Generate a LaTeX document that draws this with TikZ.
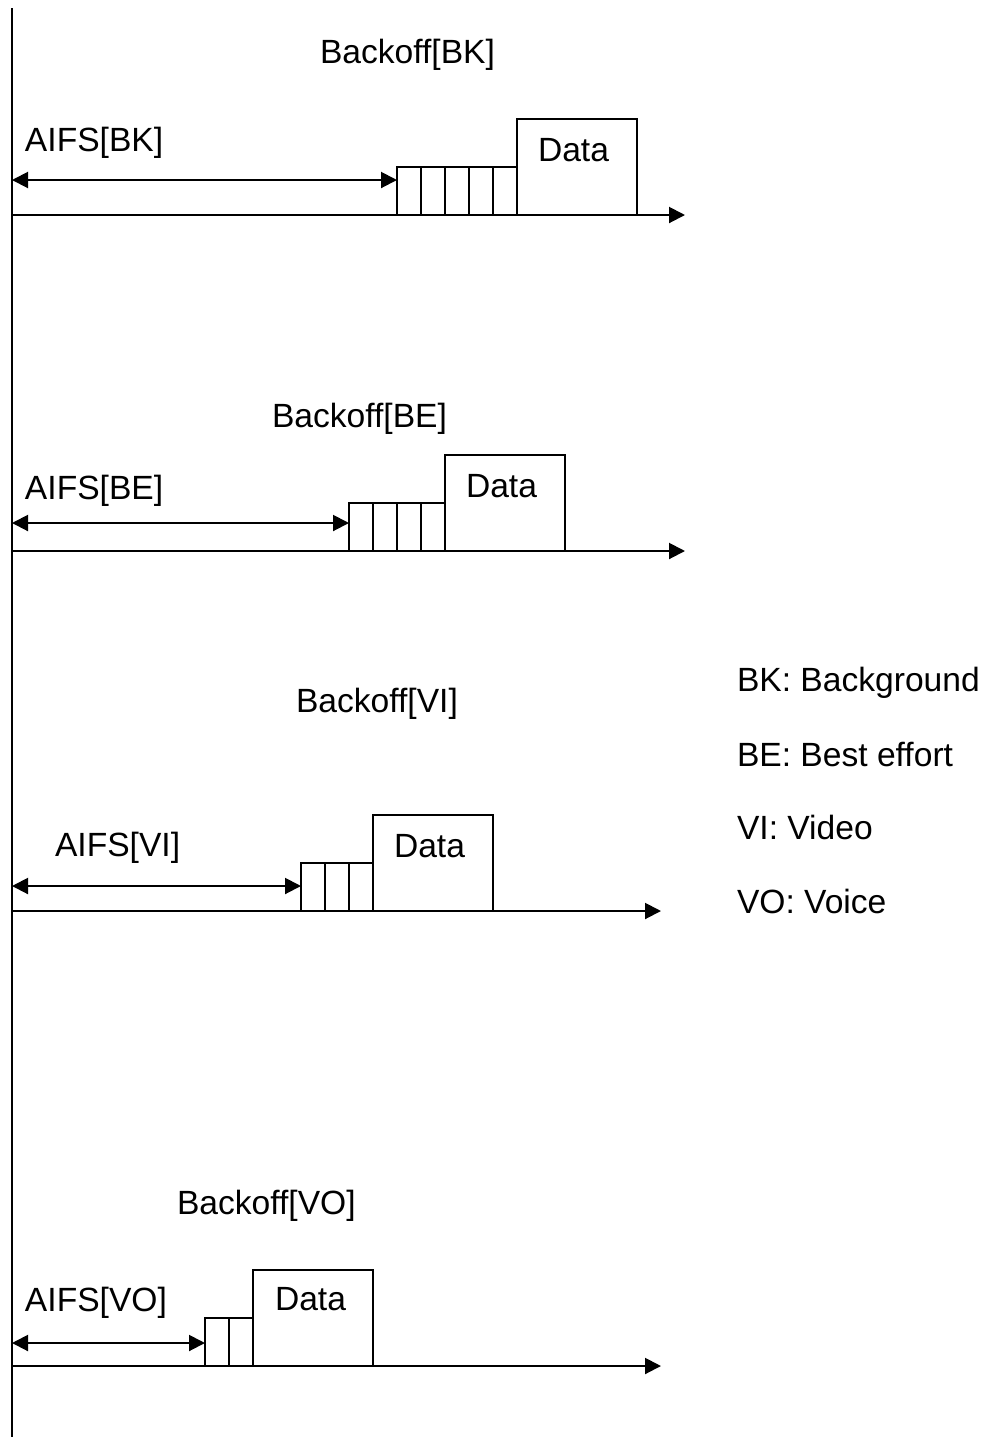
\documentclass[tikz,border=0pt]{standalone}
\usepackage{fontspec}
\setmainfont{Liberation Sans}
\usetikzlibrary{arrows.meta}

\begin{document}
\begin{tikzpicture}[x=0.5pt,y=-0.5pt,line width=1pt,
  every node/.style={font=\fontsize{16.8}{20}\selectfont,inner sep=0pt,anchor=base west},
  axis/.style={-{Triangle[length=8pt,width=8pt]}},
  aifs/.style={{Triangle[length=8pt,width=8pt]}-{Triangle[length=8pt,width=8pt]}}]

\useasboundingbox (0,0) rectangle (990,1437);

% Slot width and height of a backoff slot
\def\sw{24}
\def\sh{48}

% Station line
\coordinate (top) at (12,8);
\coordinate (bot) at (12,1437);
\draw (top) -- (bot);

% ---- Background (BK) ----
\coordinate (bkS) at (12,215);
\coordinate (bkE) at (685,215);
\draw[axis] (bkS) -- (bkE);
\coordinate (bkA0) at (12,180);
\coordinate (bkA1) at (397,180);
\draw[aifs] (bkA0) -- (bkA1);
\foreach \i in {0,...,4}
  \draw (397+\sw*\i,215) rectangle ++(\sw,-\sh);
\draw (517,119) rectangle (637,215);
\node (bkData) at (537,161) {Data};
\node (bkAifs) at (24,151) {AIFS[BK]};
\node (bkBack) at (319,63) {Backoff[BK]};

% ---- Best effort (BE) ----
\coordinate (beS) at (12,551);
\coordinate (beE) at (685,551);
\draw[axis] (beS) -- (beE);
\coordinate (beA0) at (12,523);
\coordinate (beA1) at (349,523);
\draw[aifs] (beA0) -- (beA1);
\foreach \i in {0,...,3}
  \draw (349+\sw*\i,551) rectangle ++(\sw,-\sh);
\draw (445,455) rectangle (565,551);
\node (beData) at (465,497) {Data};
\node (beAifs) at (24,499) {AIFS[BE]};
\node (beBack) at (271,427) {Backoff[BE]};

% ---- Video (VI) ----
\coordinate (viS) at (12,911);
\coordinate (viE) at (661,911);
\draw[axis] (viS) -- (viE);
\coordinate (viA0) at (12,886);
\coordinate (viA1) at (301,886);
\draw[aifs] (viA0) -- (viA1);
\foreach \i in {0,...,2}
  \draw (301+\sw*\i,911) rectangle ++(\sw,-\sh);
\draw (373,815) rectangle (493,911);
\node (viData) at (393,857) {Data};
\node (viAifs) at (54,856) {AIFS[VI]};
\node (viBack) at (295,712) {Backoff[VI]};

% ---- Voice (VO) ----
\coordinate (voS) at (12,1366);
\coordinate (voE) at (661,1366);
\draw[axis] (voS) -- (voE);
\coordinate (voA0) at (12,1343);
\coordinate (voA1) at (205,1343);
\draw[aifs] (voA0) -- (voA1);
\foreach \i in {0,...,1}
  \draw (205+\sw*\i,1366) rectangle ++(\sw,-\sh);
\draw (253,1270) rectangle (373,1366);
\node (voData) at (274,1310) {Data};
\node (voAifs) at (24,1311) {AIFS[VO]};
\node (voBack) at (176,1214) {Backoff[VO]};

% Legend
\node (lgBK) at (736,691) {BK: Background};
\node (lgBE) at (736,766) {BE: Best effort};
\node (lgVI) at (736,839) {VI: Video};
\node (lgVO) at (736,913) {VO: Voice};

\end{tikzpicture}
\end{document}
